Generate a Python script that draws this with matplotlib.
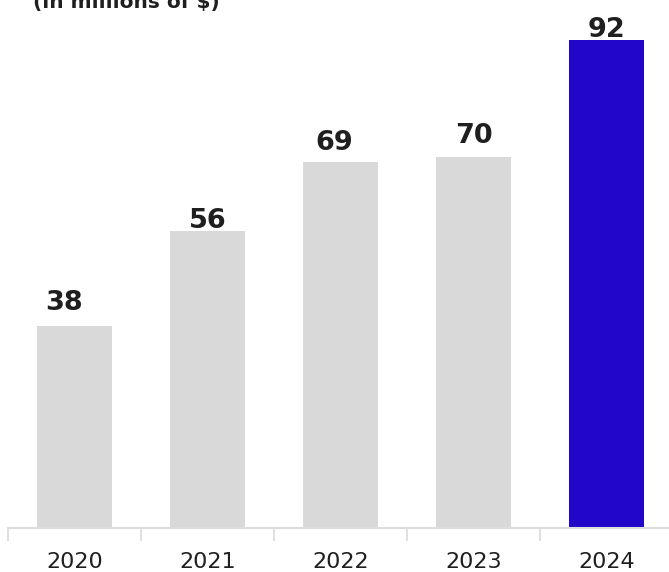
import matplotlib.pyplot as plt

years = ['2020', '2021', '2022', '2023', '2024']
values = [38, 56, 69, 70, 92]
highlight_year = '2024'

# label nudges in pixels (dx, gap above bar)
label_nudge = [(-11, 16), (0, 3), (-6, 12), (0, 14), (0, 3)]

GREY = '#d9d9d9'
BLUE = '#2206c9'
TEXT = '#1f1f1f'

plt.rcParams['font.family'] = ['DejaVu Sans']

fig = plt.figure(figsize=(6.69, 5.72), dpi=100)
ax = fig.add_axes([8 / 669, 44 / 572, 665 / 669, 528 / 572])

colors = [BLUE if y == highlight_year else GREY for y in years]
x = range(len(years))
ax.bar(x, values, width=0.57, color=colors, zorder=2)

ax.set_xlim(-0.5, len(years) - 0.5)
ax.set_ylim(0, 99.55)

for i, v in enumerate(values):
    dx, gap = label_nudge[i]
    ax.annotate(str(v), xy=(i, v), xytext=(dx * 0.72, gap * 0.72),
                textcoords='offset points', ha='center', va='baseline',
                fontsize=19.5, fontweight='bold', color=TEXT)

# category separators below the baseline
ax.set_xticks(x)
ax.set_xticklabels(years, fontsize=16, color=TEXT)
ax.tick_params(axis='x', length=0, pad=17.5)
ax.set_xticks([i - 0.5 for i in range(len(years) + 1)], minor=True)
ax.tick_params(axis='x', which='minor', length=9, width=1.3, color='#dddddd')
ax.set_yticks([])

for side in ['top', 'right', 'left']:
    ax.spines[side].set_visible(False)
ax.spines['bottom'].set_color('#dddddd')
ax.spines['bottom'].set_linewidth(1.5)

fig.text(33 / 669, 1 - 8 / 572, '(in millions of $)', fontsize=14.5,
         fontweight='bold', color=TEXT, ha='left', va='baseline')

fig.savefig('out.png', dpi=100, facecolor='white')
